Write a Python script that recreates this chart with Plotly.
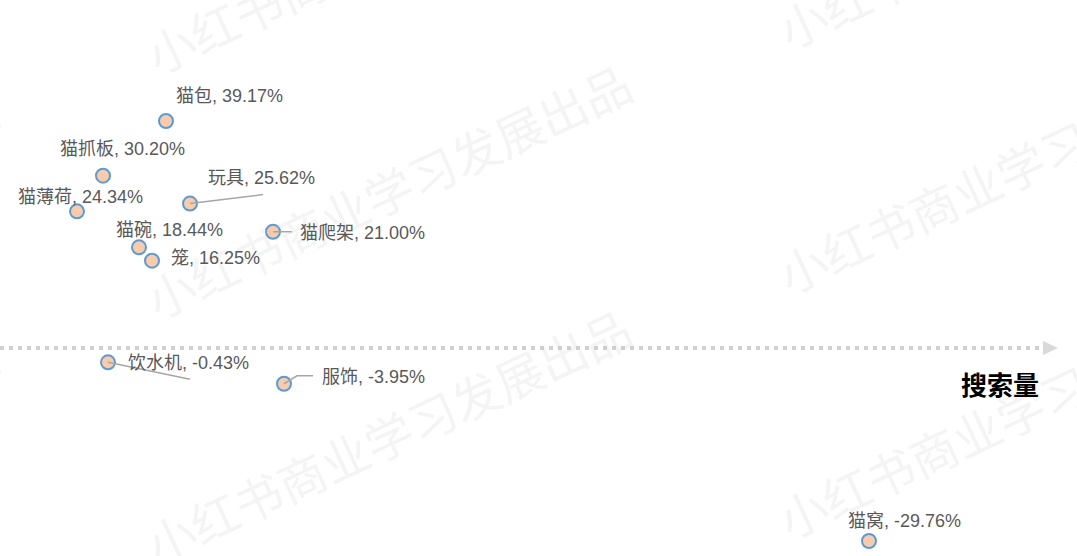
import plotly.graph_objects as go

# ---- data ----
categories = ["猫包", "猫抓板", "猫薄荷", "玩具", "猫爬架", "猫碗", "笼", "饮水机", "服饰", "猫窝"]
search_volume = [166, 103, 77, 190, 273, 139, 152, 108, 284, 869]   # relative search volume
growth_pct = [39.17, 30.20, 24.34, 25.62, 21.00, 18.44, 16.25, -0.43, -3.95, -29.76]
axis_title = "搜索量"
watermark = "小红书商业学习发展出品"

# ---- label layout (pixel offsets from the point: left edge of text, vertical centre) ----
label_dx = [8, -45, -61, 16, 25, -25, 17, 18, 36, -23]
label_dy = [25, 27, 14, 26, -1, 17, 3, -1, 7, 20]
# leader lines, pixel polylines relative to the point (y up)
leaders = {
    "玩具": [(0, 0), (73, 9)],
    "猫爬架": [(0, 0), (19, 0)],
    "饮水机": [(0, 0), (82, -17)],
    "服饰": [(0, 0), (13, 8), (29, 8)],
}

W, H = 1077, 556
x_range = [0, 1077]
y_range = [-32.22, 59.03]
LABEL_FONT = "Liberation Sans, Noto Sans CJK SC, sans-serif"

fig = go.Figure()

fig.add_trace(go.Scatter(
    x=search_volume, y=growth_pct, mode="markers",
    marker=dict(size=14, color="#f8cbad", line=dict(color="#5b9bd5", width=2)),
    hoverinfo="skip", showlegend=False,
))

annotations = []
shapes = []

# watermark
wm_centers = []
for k in range(-1, 3):
    wm_centers.append((388, 190 + 245 * k))
    wm_centers.append((1020, 165 + 245 * k))
    wm_centers.append((-245, 215 + 245 * k))
for (cx, cy) in wm_centers:
    annotations.append(dict(
        x=cx / W, y=1 - cy / H, xref="paper", yref="paper", text=watermark,
        showarrow=False, textangle=-25, xanchor="center", yanchor="middle",
        font=dict(family="Noto Sans CJK SC", size=48, color="rgba(200,200,200,0.2)"),
    ))

# axis line (dotted with arrow)
axis_py = 348
shapes.append(dict(type="line", xref="paper", yref="paper",
                   x0=0, x1=1042 / W, y0=1 - axis_py / H, y1=1 - axis_py / H,
                   line=dict(color="#d0d0d0", width=4, dash="4px,5px"), layer="below"))
shapes.append(dict(type="path", xref="paper", yref="paper",
                   path=f"M {1043/W},{1-341/H} L {1058/W},{1-axis_py/H} L {1043/W},{1-355/H} Z",
                   fillcolor="#d9d9d9", line=dict(width=0), layer="below"))
annotations.append(dict(x=1000 / W, y=1 - 383 / H, xref="paper", yref="paper",
                        text=f"<b>{axis_title}</b>",
                        showarrow=False, xanchor="center", yanchor="middle",
                        font=dict(family="Noto Sans CJK SC", size=26, color="#000000")))

# point labels and leaders
for i, name in enumerate(categories):
    annotations.append(dict(
        x=search_volume[i], y=growth_pct[i], xref="x", yref="y",
        text=f"{name}, {growth_pct[i]:.2f}%", showarrow=False,
        xanchor="left", yanchor="middle", xshift=label_dx[i], yshift=label_dy[i],
        font=dict(family=LABEL_FONT, size=18, color="#595959"),
    ))
    if name in leaders:
        pts = leaders[name]
        path = "M " + " L ".join(f"{px},{py}" for px, py in pts)
        shapes.append(dict(type="path", xref="x", yref="y",
                           xsizemode="pixel", ysizemode="pixel",
                           xanchor=search_volume[i], yanchor=growth_pct[i],
                           path=path, line=dict(color="#a6a6a6", width=1.5)))

fig.update_layout(
    width=W, height=H, autosize=False,
    margin=dict(l=0, r=0, t=0, b=0),
    paper_bgcolor="white", plot_bgcolor="white",
    xaxis=dict(range=x_range, visible=False, fixedrange=True),
    yaxis=dict(range=y_range, visible=False, fixedrange=True),
    annotations=annotations, shapes=shapes, showlegend=False,
)

fig.write_html("out.html", config={"displayModeBar": False},
               post_script="document.body.style.margin='0';")
